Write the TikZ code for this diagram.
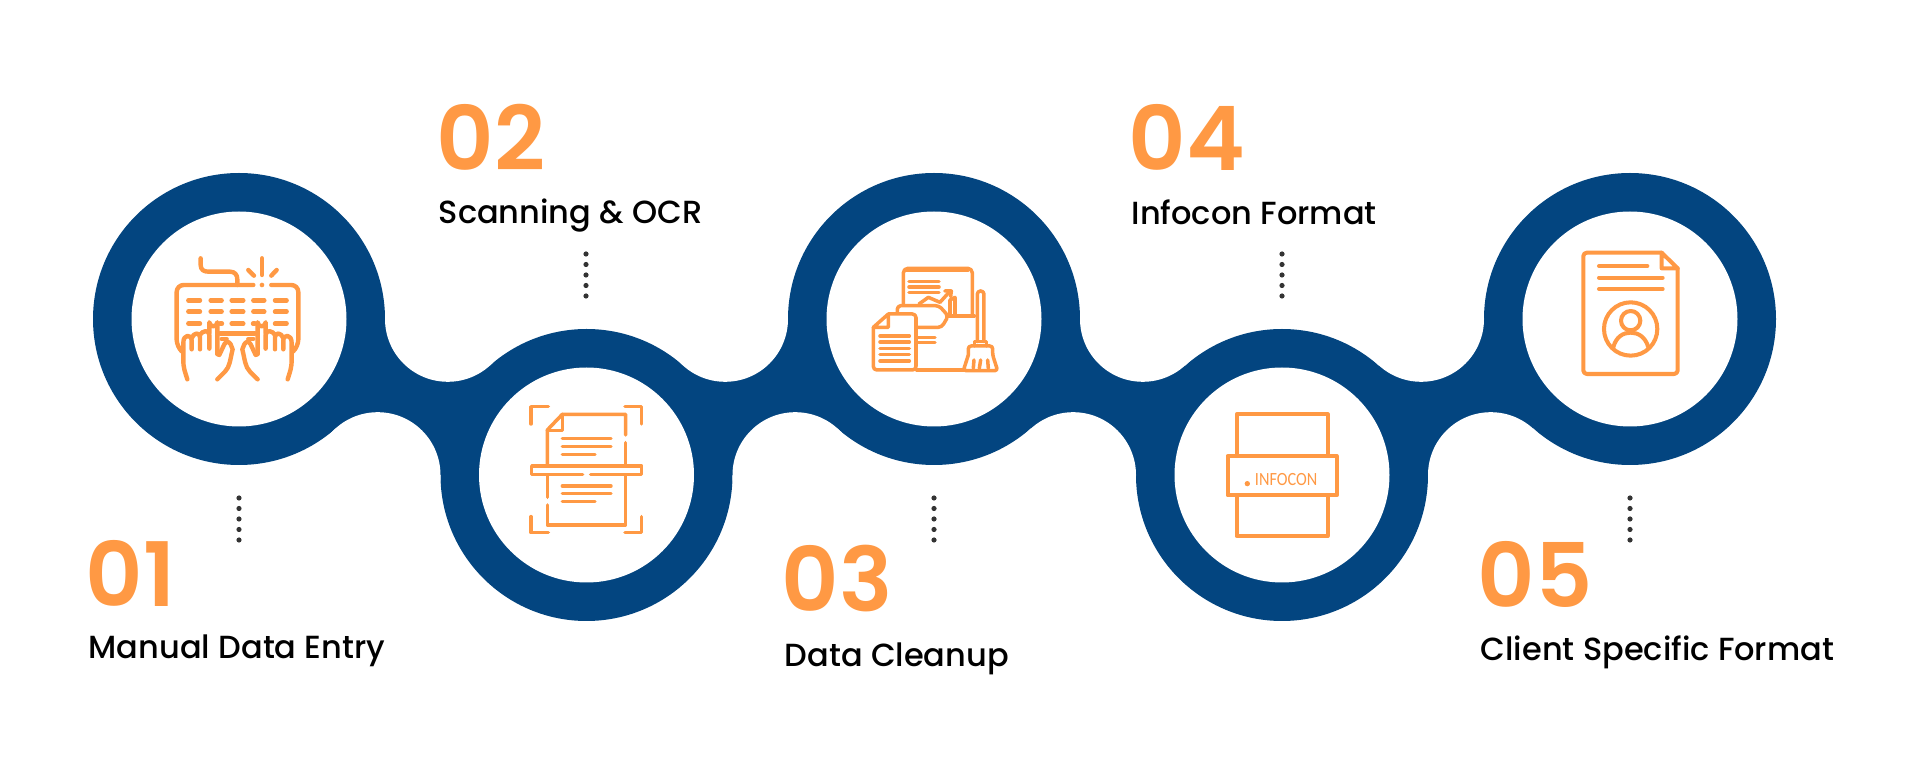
\documentclass[tikz,border=0pt]{standalone}
\usepackage{fontspec}
\setmainfont{Poppins Medium}
\newfontfamily\numfont{Poppins SemiBold}
\newfontfamily\tagfont{Carlito}
\definecolor{bandblue}{HTML}{034580}
\definecolor{iconorange}{HTML}{FF9944}
\definecolor{dotgray}{HTML}{333333}
\tikzset{
	bandfill/.style={fill=bandblue, draw=none},
	holefill/.style={fill=white, draw=none},
	iconline/.style={draw=iconorange, line width=1.25pt, line cap=round, line join=round},
	thinline/.style={iconline, line width=1pt},
	cardline/.style={iconline, line width=1.15pt},
	dotfill/.style={fill=dotgray, draw=none},
	numtext/.style={anchor=base west, inner sep=0pt, text=iconorange, font=\numfont\fontsize{25.3}{30}\selectfont},
	steptext/.style={anchor=base west, inner sep=0pt, text=black, font=\fontsize{9.1}{11}\selectfont}
}
\newcommand{\typinghand}{
	\draw[iconline] (322,658) .. controls (315,635) and (310,625) .. (310,600) -- (310,548) .. controls (310,522) and (335,522) .. (335,542) -- (335,568);
	\draw[iconline] (335,535) .. controls (340,518) and (360,515) .. (360,532) -- (360,568);
	\draw[iconline] (360,525) .. controls (366,512) and (388,508) .. (388,525) -- (388,566);
	\draw[iconline] (388,520) -- (388,487) arc [start angle=180, end angle=0, radius=12] -- (412,582);
	\draw[iconline] (412,582) -- (418,585) -- (433,553) .. controls (438,542) and (448,545) .. (452,553) -- (458,568) .. controls (450,600) and (450,620) .. (435,635) -- (412,658);
	\draw[iconline] (325,421) -- (360,421);
	\draw[iconline] (392,421) -- (425,421);
	\draw[iconline] (325,455) -- (360,455);
	\draw[iconline] (392,455) -- (425,455);
	\draw[iconline] (325,491) -- (360,491);
	\draw[iconline] (420,491) -- (426,491);
	\draw[iconline] (455,421) -- (472,421);
	\draw[iconline] (455,455) -- (472,455);
	\draw[iconline] (455,491) -- (472,491);
	\draw[iconline] (420,520) -- (472,520);
	\draw[iconline] (425,537) -- (440,537);
}
\begin{document}
\begin{tikzpicture}[x=0.01cm, y=-0.01cm]
	\useasboundingbox (0,0) rectangle (1920,761);

	\fill[bandfill] (239,319) -- (447.8,319) -- (586.5,475) -- (377.7,475) -- cycle;
	\fill[bandfill] (586.5,475) -- (795.3,475) -- (934,319) -- (725.2,319) -- cycle;
	\fill[bandfill] (934,319) -- (1142.8,319) -- (1282,475) -- (1073.2,475) -- cycle;
	\fill[bandfill] (1282,475) -- (1490.8,475) -- (1630,319) -- (1421.2,319) -- cycle;

	\fill[bandfill] (239,319) circle [radius=146];
	\fill[bandfill] (586.5,475) circle [radius=146];
	\fill[bandfill] (934,319) circle [radius=146];
	\fill[bandfill] (1282,475) circle [radius=146];
	\fill[bandfill] (1630,319) circle [radius=146];

	\fill[holefill] (447.8,319) circle [radius=62.8];
	\fill[holefill] (377.7,475) circle [radius=62.8];
	\fill[holefill] (725.2,319) circle [radius=62.8];
	\fill[holefill] (795.3,475) circle [radius=62.8];
	\fill[holefill] (1142.8,319) circle [radius=62.8];
	\fill[holefill] (1073.2,475) circle [radius=62.8];
	\fill[holefill] (1421.2,319) circle [radius=62.8];
	\fill[holefill] (1490.8,475) circle [radius=62.8];

	\fill[holefill] (239,319) circle [radius=107.5];
	\fill[holefill] (586.5,475) circle [radius=107.5];
	\fill[holefill] (934,319) circle [radius=107.5];
	\fill[holefill] (1282,475) circle [radius=107.5];
	\fill[holefill] (1630,319) circle [radius=107.5];

	\begin{scope}[shift={(80,160)}, scale=0.3333]
		\typinghand
		\begin{scope}[shift={(945,0)}, xscale=-1]
			\typinghand
		\end{scope}
		\draw[iconline, rounded corners=2pt] (520,375) -- (290,375) -- (290,560) -- (303,572);
		\draw[iconline, rounded corners=2pt] (574,375) -- (655,375) -- (655,560) -- (642,572);
		\draw[iconline] (362,295) -- (362,315) .. controls (362,330) and (372,335) .. (385,335) -- (450,335) .. controls (465,335) and (472,345) .. (472,358) -- (472,375);
		\draw[iconline] (546,295) -- (546,345);
		\draw[iconline] (505,330) -- (522,347);
		\draw[iconline] (590,330) -- (574,347);
		\fill[iconorange] (546,375) circle [radius=7];
	\end{scope}

	\begin{scope}[shift={(470,340)}, scale=0.3333]
		\draw[thinline] (183,252) -- (183,200) -- (235,200);
		\draw[thinline] (465,200) -- (515,200) -- (515,252);
		\draw[thinline] (183,530) -- (183,578) -- (235,578);
		\draw[thinline] (465,578) -- (515,578) -- (515,530);
		\draw[thinline] (232,372) -- (232,270) -- (277,223) -- (467,223) -- (467,285);
		\draw[thinline] (467,308) -- (467,372);
		\draw[thinline] (277,223) -- (277,272) -- (232,272);
		\draw[thinline] (277,296) -- (423,296);
		\draw[thinline] (277,320) -- (423,320);
		\draw[thinline] (277,344) -- (375,344);
		\draw[thinline] (338,403) -- (185,403) -- (185,378) -- (515,378) -- (515,403) -- (362,403);
		\draw[thinline] (232,408) -- (232,472);
		\draw[thinline] (232,495) -- (232,555) -- (467,555) -- (467,408);
		\draw[thinline] (277,438) -- (423,438);
		\draw[thinline] (277,461) -- (423,461);
		\draw[thinline] (277,485) -- (375,485);
	\end{scope}

	\begin{scope}[shift={(840,240)}, scale=0.3333]
		\draw[thinline, rounded corners=1.3pt] (190,195) -- (190,85) -- (397,85) -- (397,228);
		\draw[thinline, line width=0.6pt] (197,94) -- (385,94);
		\draw[thinline] (207,125) -- (297,125);
		\draw[thinline] (207,141) -- (297,141);
		\draw[thinline] (207,157) -- (297,157);
		\draw[thinline] (237,192) -- (265,172) -- (300,187) -- (327,157);
		\draw[thinline] (315,153) -- (334,153) -- (332,170);
		\draw[thinline] (330,228) -- (330,180) -- (345,172) -- (345,228);
		\draw[thinline, rounded corners=1pt] (172,215) -- (172,197) -- (297,197) -- (325,228) -- (305,262) -- (235,262);
		\draw[thinline] (325,228) -- (403,228);
		\draw[thinline] (235,292) -- (285,292);
		\draw[thinline] (235,308) -- (285,308);
		\draw[thinline] (230,390) -- (372,390);
		\draw[thinline, rounded corners=1pt] (145,222) -- (228,222) -- (228,390) -- (100,390) -- (100,262);
		\draw[thinline] (100,262) -- (145,222) -- (145,262) -- (100,262);
		\draw[thinline] (120,288) -- (208,288);
		\draw[thinline] (120,306) -- (208,306);
		\draw[thinline] (120,325) -- (208,325);
		\draw[thinline] (120,344) -- (208,344);
		\draw[thinline] (120,363) -- (208,363);
		\draw[thinline, rounded corners=0.9pt] (412,305) -- (412,153) -- (432,153) -- (432,305);
		\draw[thinline] (403,318) -- (403,305) -- (440,305) -- (440,318);
		\draw[thinline, rounded corners=0.8pt] (385,345) -- (385,318) -- (458,318) -- (458,345) -- (473,392) -- (370,392) -- (385,345);
		\draw[thinline] (402,360) -- (400,385);
		\draw[thinline] (422,360) -- (418,385);
		\draw[thinline] (443,360) -- (445,385);
	\end{scope}

	\begin{scope}[shift={(1160,380)}, scale=0.3333]
		\draw[cardline] (230,228) -- (230,103) -- (503,103) -- (503,228);
		\draw[cardline] (203,228) rectangle (530,346);
		\draw[cardline] (230,346) -- (230,468) -- (503,468) -- (503,346);
		\fill[iconorange] (262,311) circle [radius=8];
		\node[anchor=base west, inner sep=0pt, text=iconorange, xscale=0.87, font=\tagfont\fontsize{5.3}{6}\selectfont] (tagInfocon) at (283,318) {INFOCON};
	\end{scope}

	\begin{scope}[shift={(1540,230)}, scale=0.3333]
		\draw[cardline, rounded corners=1pt] (365,68) -- (130,68) -- (130,432) -- (413,432) -- (413,115);
		\draw[cardline] (413,115) -- (365,68) -- (365,115) -- (413,115);
		\draw[cardline] (177,108) -- (322,108);
		\draw[cardline] (177,143) -- (368,143);
		\draw[cardline] (177,177) -- (368,177);
		\draw[cardline] (272,297) circle [radius=80];
		\draw[cardline] (272,272) circle [radius=29];
		\draw[cardline] (220,352) .. controls (228,320) and (250,308) .. (272,308) .. controls (294,308) and (316,320) .. (325,352);
	\end{scope}

	\fill[dotfill] (239,498) circle [radius=2.6];
	\fill[dotfill] (239,508.5) circle [radius=2.6];
	\fill[dotfill] (239,519) circle [radius=2.6];
	\fill[dotfill] (239,529.5) circle [radius=2.6];
	\fill[dotfill] (239,540) circle [radius=2.6];

	\fill[dotfill] (586,254) circle [radius=2.6];
	\fill[dotfill] (586,264.5) circle [radius=2.6];
	\fill[dotfill] (586,275) circle [radius=2.6];
	\fill[dotfill] (586,285.5) circle [radius=2.6];
	\fill[dotfill] (586,296) circle [radius=2.6];

	\fill[dotfill] (934,498) circle [radius=2.6];
	\fill[dotfill] (934,508.5) circle [radius=2.6];
	\fill[dotfill] (934,519) circle [radius=2.6];
	\fill[dotfill] (934,529.5) circle [radius=2.6];
	\fill[dotfill] (934,540) circle [radius=2.6];

	\fill[dotfill] (1282,254) circle [radius=2.6];
	\fill[dotfill] (1282,264.5) circle [radius=2.6];
	\fill[dotfill] (1282,275) circle [radius=2.6];
	\fill[dotfill] (1282,285.5) circle [radius=2.6];
	\fill[dotfill] (1282,296) circle [radius=2.6];

	\fill[dotfill] (1630,498) circle [radius=2.6];
	\fill[dotfill] (1630,508.5) circle [radius=2.6];
	\fill[dotfill] (1630,519) circle [radius=2.6];
	\fill[dotfill] (1630,529.5) circle [radius=2.6];
	\fill[dotfill] (1630,540) circle [radius=2.6];

	\node[numtext] (numManual) at (85,607) {01};
	\node[steptext] (stepManual) at (88,659) {Manual Data Entry};
	\node[numtext] (numScan) at (436,171) {02};
	\node[steptext] (stepScan) at (438,224) {Scanning \& OCR};
	\node[numtext] (numClean) at (781,612) {03};
	\node[steptext] (stepClean) at (784,667) {Data Cleanup};
	\node[numtext] (numInfocon) at (1128,171) {04};
	\node[steptext] (stepInfocon) at (1131,225) {Infocon Format};
	\node[numtext] (numClient) at (1477,608) {05};
	\node[steptext] (stepClient) at (1480,661) {Client Specific Format};
\end{tikzpicture}
\end{document}
